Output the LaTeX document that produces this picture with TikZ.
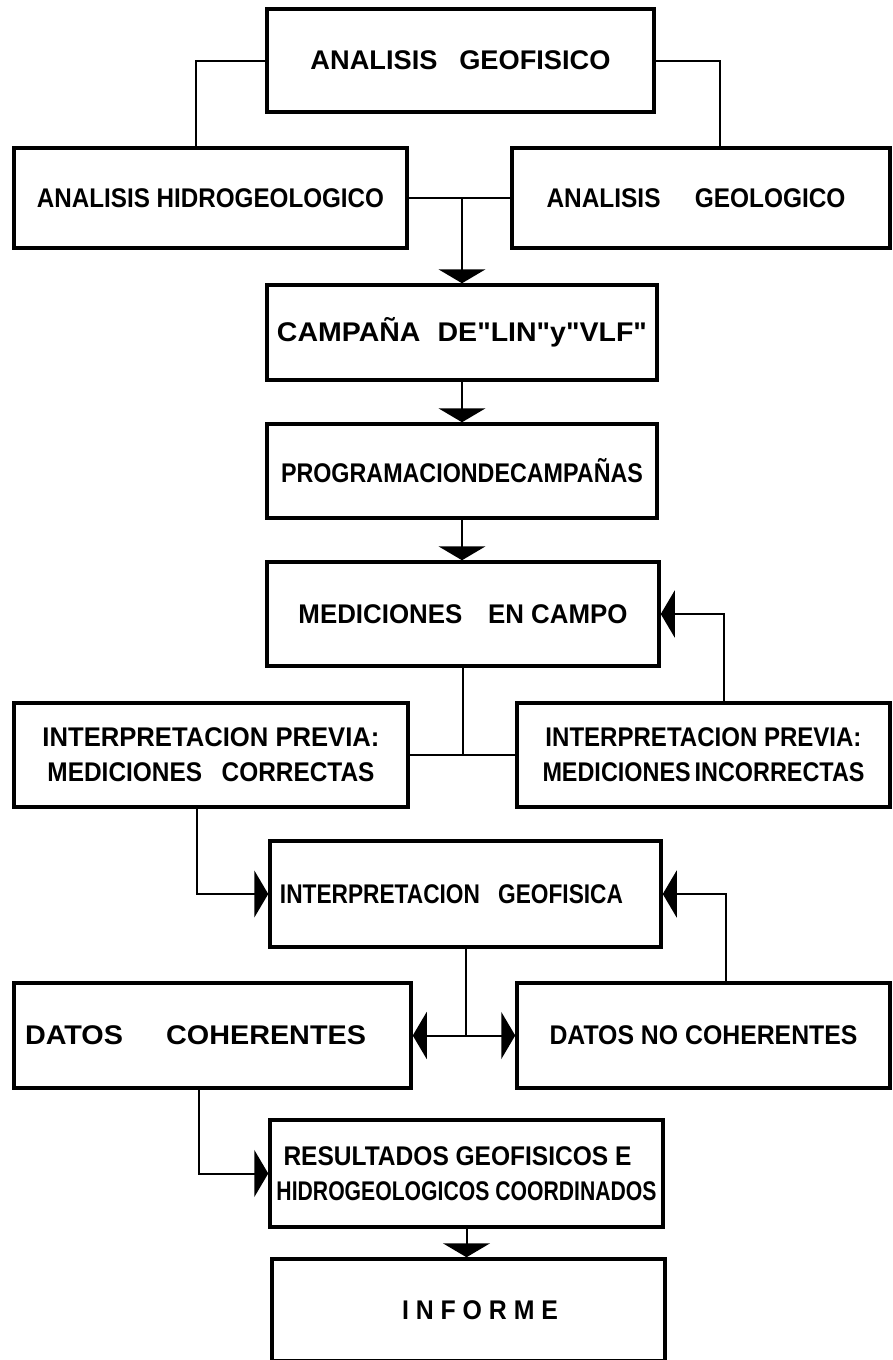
\documentclass[tikz,border=0pt]{standalone}
\usepackage{fontspec}
\usepackage{graphicx}
\setmainfont{Liberation Sans}
\usetikzlibrary{arrows.meta}
\newcommand\fw[2]{\resizebox{#1}{\height}{#2}}
\newcommand\qq{\textquotedbl}
\begin{document}
\begin{tikzpicture}[x=1pt,y=-1pt,
  box/.style={draw,line width=3.5pt,inner sep=0pt,align=center,
    font=\fontsize{27}{35}\selectfont\bfseries},
  link/.style={line width=2pt},
  arr/.style={line width=2pt,-{Triangle[width=47pt,length=14pt]}}]
\useasboundingbox (0,0) rectangle (892,1360);
% boxes
\node[box,minimum width=387pt,minimum height=103pt] (A) at (460.5,60.5)
  {\fw{300pt}{ANALISIS\hspace{0.8em}GEOFISICO}};
\node[box,minimum width=393pt,minimum height=100pt] (B) at (210.5,198)
  {\fw{347pt}{ANALISIS HIDROGEOLOGICO}};
\node[box,minimum width=378pt,minimum height=100pt] (C) at (701,198)
  {\fw{299pt}{ANALISIS\hspace{1.4em}GEOLOGICO}\hspace*{10pt}};
\node[box,minimum width=390pt,minimum height=95pt] (D) at (462,332.5)
  {\fw{370pt}{CAMPAÑA\hspace{0.6em}DE\qq LIN\qq y\qq VLF\qq}};
\node[box,minimum width=390pt,minimum height=94pt] (E) at (462,471)
  {\fw{362pt}{PROGRAMACIONDECAMPAÑAS}};
\node[box,minimum width=392pt,minimum height=104pt] (F) at (463,614)
  {\fw{329pt}{MEDICIONES\hspace{1em}EN CAMPO}};
\node[box,minimum width=394pt,minimum height=104pt] (G) at (211,755)
  {\fw{337pt}{INTERPRETACION PREVIA:}\\\fw{327pt}{MEDICIONES\hspace{0.8em}CORRECTAS}};
\node[box,minimum width=373pt,minimum height=104pt] (H) at (703.5,755)
  {\fw{316pt}{INTERPRETACION PREVIA:}\\\fw{322pt}{MEDICIONES\,INCORRECTAS}};
\node[box,minimum width=391pt,minimum height=106pt] (I) at (465.5,894)
  {\fw{343pt}{INTERPRETACION\hspace{0.8em}GEOFISICA}\hspace*{28pt}};
\node[box,minimum width=397pt,minimum height=105pt] (J) at (212.5,1035.5)
  {\fw{341pt}{DATOS\hspace{1.5em}COHERENTES}\hspace*{34pt}};
\node[box,minimum width=373pt,minimum height=105pt] (K) at (703.5,1035.5)
  {\fw{308pt}{DATOS NO COHERENTES}};
\node[box,minimum width=393pt,minimum height=107pt] (L) at (466.5,1173.5)
  {\fw{348pt}{RESULTADOS GEOFISICOS E}\hspace*{18pt}\\\fw{380pt}{HIDROGEOLOGICOS COORDINADOS}};
\node[box,minimum width=393pt,minimum height=102pt] (M) at (468.5,1310)
  {\hspace*{23pt}\fw{156pt}{I N F O R M E}};
% connectors
\draw[link] (A.west) -| ([xshift=-15pt]B.north);
\draw[link] (A.east) -| ([xshift=19pt]C.north);
\draw[link] (B.east) -- (C.west);
\draw[arr] (D.north |- B.east) -- (D.north);
\draw[arr] (D.south) -- (E.north);
\draw[arr] (E.south) -- (E.south |- F.north);
\coordinate (m1) at (F.south |- G.east);
\draw[link] (F.south) -- (m1);
\draw[link] (G.east) -- (H.west);
\draw[arr] ([xshift=20pt]H.north) |- (F.east);
\draw[arr] ([xshift=-14pt]G.south) |- (I.west);
\coordinate (m2) at (I.south |- J.east);
\draw[link] (I.south) -- (m2);
\draw[arr] (m2) -- (J.east);
\draw[arr] (m2) -- (K.west);
\draw[arr] ([xshift=22pt]K.north) |- (I.east);
\draw[arr] ([xshift=-14pt]J.south) |- (L.west);
\draw[arr] (L.south) -- (L.south |- M.north);
\end{tikzpicture}
\end{document}
